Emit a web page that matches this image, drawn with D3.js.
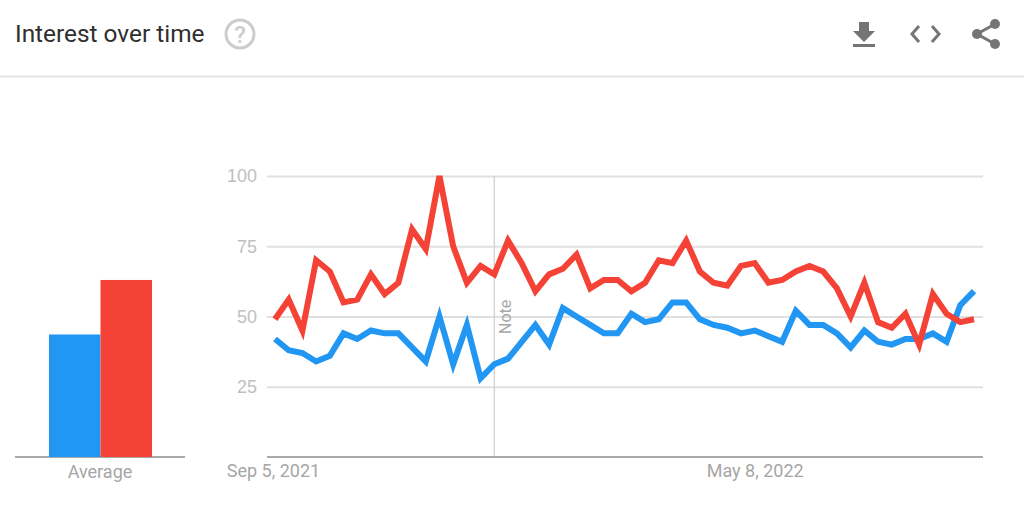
<!DOCTYPE html>
<html>
<head>
<meta charset="utf-8">
<script src="https://cdn.jsdelivr.net/npm/d3@7"></script>
<style>
    html, body { margin: 0; background: #fff; }
    svg { display: block; font-family: Roboto, sans-serif; }
    .tick line { stroke: #e0e0e0; stroke-width: 2; }
    .tick text { fill: #c0c0c0; font-size: 18px; }
    .domain { display: none; }
</style>
</head>
<body>
<div id="svg_container"></div>
<script>
// Chart values
const blueValues = [42, 38, 37, 34, 36, 44, 42, 45, 44, 44, 39, 34, 50, 33, 47, 28, 33, 35, 41, 47, 40, 53, 50, 47, 44, 44, 51, 48, 49, 55, 55, 49, 47, 46, 44, 45, 43, 41, 52, 47, 47, 44, 39, 45, 41, 40, 42, 42, 44, 41, 54, 59];
const redValues = [49, 56, 45, 70, 66, 55, 56, 65, 58, 62, 81, 74, 100, 75, 62, 68, 65, 77, 69, 59, 65, 67, 72, 60, 63, 63, 59, 62, 70, 69, 77, 66, 62, 61, 68, 69, 62, 63, 66, 68, 66, 60, 50, 62, 48, 46, 51, 40, 58, 51, 48, 49];
const averages = [43.6, 63];
const averageNames = ["blue", "red"];
const yTicks = [25, 50, 75, 100];
const xLabels = [[0, "Sep 5, 2021"], [35, "May 8, 2022"]];
const noteIndex = 16;

const canvas = { w: 1024, h: 511 };
const colors = { blue: "#2196f3", red: "#f44336" };

const svg = d3.select("#svg_container")
    .append("svg")
    .attr("width", canvas.w)
    .attr("height", canvas.h);

// Header
svg.append("text")
    .attr("x", 15).attr("y", 42)
    .attr("font-size", 24.4)
    .attr("fill", "#2f2f2f")
    .text("Interest over time");

svg.append("line")
    .attr("x1", 0).attr("x2", canvas.w)
    .attr("y1", 76.5).attr("y2", 76.5)
    .attr("stroke", "#e4e4e4").attr("stroke-width", 2);

const help = svg.append("g").attr("transform", "translate(240,34)");
help.append("circle").attr("r", 14).attr("fill", "none").attr("stroke", "#ccc").attr("stroke-width", 3);
help.append("text")
    .attr("text-anchor", "middle").attr("y", 8.5)
    .attr("font-size", 24).attr("font-weight", 500).attr("fill", "#ccc")
    .text("?");

// Toolbar icons
const iconColor = "#757575";
svg.append("path")
    .attr("d", "M859 22h10v9h6l-11 11l-11-11h6zM853 44h22v3h-22z")
    .attr("fill", iconColor);
svg.append("path")
    .attr("d", "M919 26l-7 8l7 8M932 26l7 8l-7 8")
    .attr("fill", "none").attr("stroke", iconColor).attr("stroke-width", 3);
const share = svg.append("g");
share.append("path")
    .attr("d", "M995 24L977 34L995 44")
    .attr("fill", "none").attr("stroke", iconColor).attr("stroke-width", 3);
[[995, 24], [977, 34], [995, 44]].forEach(([cx, cy]) => {
    share.append("circle").attr("cx", cx).attr("cy", cy).attr("r", 5).attr("fill", iconColor);
});

// Scales
const y = d3.scaleLinear().domain([0, 100]).range([457, 176]);
const x = d3.scaleLinear().domain([0, blueValues.length - 1]).range([275, 974]);
const barX = d3.scaleBand().domain(averageNames).range([49, 152]);

// Grid and y axis
svg.append("g")
    .attr("transform", "translate(267,0)")
    .call(d3.axisLeft(y).tickValues(yTicks).tickSize(-716).tickPadding(10).tickFormat(d3.format("d")));

// Note marker
svg.append("line")
    .attr("x1", x(noteIndex)).attr("x2", x(noteIndex))
    .attr("y1", y(100)).attr("y2", y(0))
    .attr("stroke", "#d6d6d6").attr("stroke-width", 1.5);
svg.append("text")
    .attr("transform", `translate(${x(noteIndex) + 17},334) rotate(-90)`)
    .attr("font-size", 16).attr("fill", "#a8a8a8")
    .text("Note");

// Baselines
[[15, 185], [267, 983]].forEach(([x1, x2]) => {
    svg.append("line")
        .attr("x1", x1).attr("x2", x2)
        .attr("y1", y(0)).attr("y2", y(0))
        .attr("stroke", "#aaa").attr("stroke-width", 2);
});

// Average bars
svg.selectAll(".avg")
    .data(averages)
    .enter()
    .append("rect")
    .attr("class", "avg")
    .attr("x", (d, i) => barX(averageNames[i]))
    .attr("width", barX.bandwidth())
    .attr("y", d => y(d))
    .attr("height", d => y(0) - y(d))
    .attr("fill", (d, i) => colors[averageNames[i]]);

// Lines
const line = d3.line().x((d, i) => x(i)).y(d => y(d));
[["blue", blueValues], ["red", redValues]].forEach(([name, values]) => {
    svg.append("path")
        .datum(values)
        .attr("d", line)
        .attr("fill", "none")
        .attr("stroke", colors[name])
        .attr("stroke-width", 6)
        .attr("stroke-linejoin", "miter");
});

// X labels
const labelStyle = sel => sel
    .attr("text-anchor", "middle")
    .attr("font-size", 18)
    .attr("fill", "#a6a6a6");
svg.selectAll(".xlabel")
    .data(xLabels)
    .enter()
    .append("text")
    .attr("class", "xlabel")
    .attr("x", d => x(d[0]) + (d[0] === 0 ? -1.5 : 0.5))
    .attr("y", 476.5)
    .call(labelStyle)
    .text(d => d[1]);
svg.append("text")
    .attr("x", 100).attr("y", 477.5)
    .call(labelStyle)
    .text("Average");
</script>
</body>
</html>
